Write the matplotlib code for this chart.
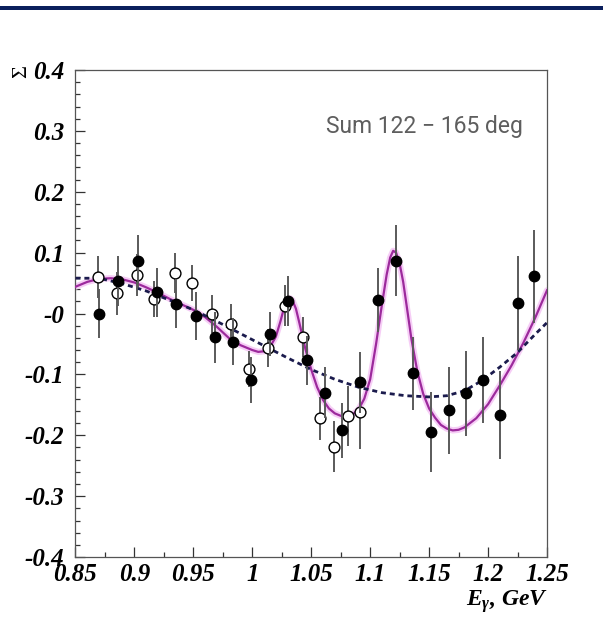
import matplotlib
matplotlib.use("Agg")
import matplotlib.pyplot as plt
from matplotlib.patches import Rectangle

# photon energy (GeV) and beam asymmetry, filled points
filled_E = [0.870, 0.886, 0.903, 0.919, 0.935, 0.952, 0.968, 0.9835, 0.999, 1.0146,
            1.0307, 1.046, 1.0617, 1.0759, 1.0917, 1.1064, 1.1216, 1.1366, 1.1519,
            1.1665, 1.1815, 1.1953, 1.210, 1.2253, 1.2394]
filled_S = [0.000, 0.053, 0.086, 0.035, 0.016, -0.004, -0.039, -0.046, -0.109, -0.033,
            0.020, -0.077, -0.130, -0.192, -0.113, 0.022, 0.087, -0.098, -0.195,
            -0.159, -0.131, -0.109, -0.167, 0.017, 0.061]
filled_err = [0.040, 0.041, 0.043, 0.040, 0.040, 0.040, 0.042, 0.038, 0.038, 0.036,
              0.041, 0.040, 0.042, 0.045, 0.050, 0.052, 0.059, 0.060, 0.066,
              0.071, 0.070, 0.071, 0.072, 0.077, 0.077]

# open points
open_E = [0.869, 0.885, 0.902, 0.917, 0.934, 0.949, 0.966, 0.982, 0.9968, 1.013,
          1.0278, 1.0434, 1.0578, 1.0697, 1.0809, 1.0917]
open_S = [0.060, 0.033, 0.063, 0.024, 0.067, 0.050, -0.001, -0.018, -0.091, -0.057,
          0.013, -0.038, -0.172, -0.219, -0.168, -0.162]
open_err = [0.035, 0.035, 0.035, 0.030, 0.033, 0.030, 0.031, 0.033, 0.030, 0.031,
            0.034, 0.033, 0.035, 0.042, 0.049, 0.060]

# fit with resonances (solid)
fit_E = [0.850, 0.860, 0.870, 0.880, 0.890, 0.900, 0.910, 0.920, 0.930, 0.940,
         0.950, 0.960, 0.970, 0.980, 0.990, 1.000, 1.005, 1.010, 1.015, 1.020,
         1.024, 1.027, 1.030, 1.032, 1.034, 1.037, 1.040, 1.045, 1.050, 1.055,
         1.060, 1.065, 1.070, 1.075, 1.080, 1.085, 1.090, 1.095, 1.100, 1.105,
         1.110, 1.114, 1.117, 1.1195, 1.122, 1.125, 1.128, 1.131, 1.135, 1.140,
         1.145, 1.150, 1.155, 1.160, 1.165, 1.170, 1.175, 1.180, 1.190, 1.200,
         1.210, 1.220, 1.230, 1.240, 1.250]
fit_S = [0.044, 0.052, 0.057, 0.058, 0.056, 0.051, 0.043, 0.034, 0.024, 0.015,
         0.006, -0.006, -0.022, -0.040, -0.052, -0.060, -0.063, -0.062, -0.055, -0.038,
         -0.012, 0.010, 0.022, 0.025, 0.022, 0.008, -0.016, -0.058, -0.092, -0.121,
         -0.142, -0.156, -0.164, -0.168, -0.169, -0.166, -0.158, -0.140, -0.108, -0.050,
         0.015, 0.064, 0.092, 0.103, 0.100, 0.082, 0.052, 0.012, -0.042, -0.095,
         -0.132, -0.156, -0.171, -0.183, -0.189, -0.192, -0.191, -0.187, -0.172, -0.149,
         -0.118, -0.085, -0.048, -0.007, 0.038]

# smooth background only (dashed)
bg_E = [0.850, 0.870, 0.890, 0.910, 0.930, 0.950, 0.970, 0.990, 1.010, 1.030,
        1.050, 1.070, 1.090, 1.110, 1.130, 1.150, 1.165, 1.180, 1.195, 1.210,
        1.225, 1.240, 1.250]
bg_S = [0.058, 0.058, 0.049, 0.037, 0.022, 0.006, -0.013, -0.033, -0.053, -0.073,
        -0.092, -0.108, -0.121, -0.130, -0.135, -0.137, -0.135, -0.127, -0.110, -0.088,
        -0.064, -0.034, -0.015]

x_ticks = [0.85, 0.9, 0.95, 1.0, 1.05, 1.1, 1.15, 1.2, 1.25]
x_labels = ["0.85", "0.9", "0.95", "1", "1.05", "1.1", "1.15", "1.2", "1.25"]
y_ticks = [-0.4, -0.3, -0.2, -0.1, 0.0, 0.1, 0.2, 0.3, 0.4]
y_labels = ["-0.4", "-0.3", "-0.2", "-0.1", "-0", "0.1", "0.2", "0.3", "0.4"]

plt.rcParams["mathtext.fontset"] = "custom"
plt.rcParams["mathtext.it"] = "Liberation Serif:bold:italic"
plt.rcParams["mathtext.rm"] = "Liberation Serif:bold:italic"

fig = plt.figure(figsize=(6.03, 6.17), dpi=100)
ax = fig.add_axes([0.1252, 0.0972, 0.7819, 0.7893])

# banner line on top
fig.add_artist(Rectangle((0, 1 - 10 / 617), 1, 4 / 617, transform=fig.transFigure,
                         color="#0a1f5c", lw=0))

ax.plot(fit_E, fit_S, color="#f6cdf6", lw=4.5, solid_capstyle="round", zorder=2)
ax.plot(fit_E, fit_S, color="#9c2a9c", lw=1.6, zorder=3)
ax.plot(bg_E, bg_S, color="#1b1b4d", lw=2.0, linestyle=(0, (1.8, 1.4)), zorder=3)

ax.errorbar(open_E, open_S, yerr=open_err, fmt="o", ms=7.8, mfc="white", mec="black",
            mew=1.0, ecolor="#5a5a5a", elinewidth=1.4, capsize=0, zorder=4)
ax.errorbar(filled_E, filled_S, yerr=filled_err, fmt="o", ms=7.5, mfc="black", mec="black",
            ecolor="#5a5a5a", elinewidth=1.4, capsize=0, zorder=5)

ax.set_xlim(0.85, 1.25)
ax.set_ylim(-0.4, 0.4)

tick_font = dict(family="Liberation Serif", weight="bold", style="italic", size=18)
ax.set_xticks(x_ticks)
ax.set_xticklabels(x_labels, fontdict=tick_font)
ax.set_yticks(y_ticks)
ax.set_yticklabels(y_labels, fontdict=tick_font)
ax.set_xticks([0.875 + 0.05 * i for i in range(8)], minor=True)
ax.set_yticks([-0.4 + 0.02 * i for i in range(41)], minor=True)
ax.tick_params(which="both", direction="in", color="#333333", width=0.9)
ax.tick_params(which="major", length=7.2)
ax.tick_params(which="minor", length=3.6)
ax.tick_params(axis="x", pad=4)
ax.tick_params(axis="y", pad=8)
for sp in ax.spines.values():
    sp.set_color("#555555")
    sp.set_linewidth(0.9)

ax.text(0.532, 0.871, "Sum 122 \u2212 165 deg", transform=ax.transAxes,
        fontsize=16.5, color="#5e5e5e", family="Roboto", fontweight="normal",
        va="baseline", ha="left")

fig.text(548 / 603, 1 - 606 / 617, r"$E_{\gamma}$, GeV", ha="right", va="baseline",
         family="Liberation Serif", weight="bold", style="italic", fontsize=17)
fig.text(22 / 603, 1 - 72 / 617, "\u03a3", rotation=90, ha="center", va="center",
         family="Liberation Serif", fontsize=16)

fig.savefig("out.png", dpi=100)
